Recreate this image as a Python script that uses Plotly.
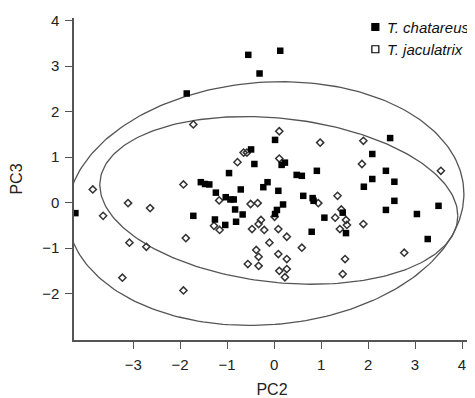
import numpy as np
import plotly.graph_objects as go

# T. chatareus (filled squares)
chat_pc2 = [-1.86, -0.55, 0.13, -0.31, 0.02, -0.49, -0.42, 0.16, 0.23, 2.09, 2.47, -0.96,
            -1.56, -1.47, -1.38, -0.71, -1.24, -1.03, -0.93, -0.86, -0.14, -0.23, 0.09, 0.91,
            0.48, 0.59, 0.62, 0.82, 2.09, 1.91, 2.38, 2.56, 2.56, 3.50, 2.38, 3.04, 3.27,
            -4.23, -1.72, -1.26, 0.84, 0.19, -0.83, 0.06, 0.02, -0.67, -0.81, -1.04, 1.07,
            1.46, 1.53, 0.80]
chat_pc3 = [2.40, 3.25, 3.34, 2.84, 1.38, 1.17, 0.85, 0.83, 0.88, 1.07, 1.42, 0.65,
            0.45, 0.41, 0.40, 0.29, 0.22, 0.12, 0.07, 0.07, 0.45, 0.34, 0.26, 0.70,
            0.61, 0.59, 0.15, 0.10, 0.52, 0.35, 0.70, 0.46, 0.04, -0.07, -0.16, -0.25, -0.80,
            -0.23, -0.29, -0.37, 0.04, -0.04, -0.15, -0.16, -0.25, -0.26, -0.42, -0.49, -0.33,
            -0.22, -0.67, -0.64]

# T. jaculatrix (open markers)
jac_pc2 = [-1.72, 0.11, 0.98, 1.90, -0.65, -0.58, -0.78, 0.11, 1.87, -1.93, -1.17, 1.35,
           3.55, 1.90, 2.77, -3.86, -3.11, -2.64, -3.64, -3.08, -2.72, -3.23, -1.93, -1.28,
           -1.16, -1.88, 0.94, -0.50, -0.35, 0.01, -0.28, -0.33, -0.47, -0.21, 0.09, 0.27,
           -0.10, 0.59, 1.30, 1.43, 1.53, 1.40, 1.55, -0.38, -0.33, 0.09, 0.27, -0.56, -0.33,
           0.11, 0.27, 0.23, 1.51, 1.46]
jac_pc3 = [1.72, 1.57, 1.32, 1.36, 1.10, 1.10, 0.89, 0.97, 0.85, 0.40, 0.05, 0.15,
           0.70, -0.47, -1.10, 0.29, -0.01, -0.12, -0.29, -0.88, -0.97, -1.65, -1.93, -0.51,
           -0.60, -0.78, -0.01, -0.03, -0.01, -0.31, -0.38, -0.47, -0.58, -0.60, -0.58, -0.75,
           -0.88, -0.99, -0.33, -0.15, -0.38, -0.58, -0.49, -1.04, -1.19, -1.13, -1.24, -1.35, -1.39,
           -1.50, -1.46, -1.64, -1.24, -1.57]

# Ellipse parameters: centre (PC2, PC3) and covariance-like shape (sxx, syy, sxy)
ell_chat_center = [-0.18, -0.02]
ell_chat_shape = [17.81, 7.18, 0.9]
ell_jac_center = [0.10, 0.05]
ell_jac_shape = [14.52, 3.40, -1.3]

x_ticks = [-3, -2, -1, 0, 1, 2, 3, 4]
y_ticks = [-2, -1, 0, 1, 2, 3, 4]
legend_names = ["T. chatareus", "T. jaculatrix"]

FONT = "Liberation Sans, Arial"


def ellipse(center, shape, n=240):
    sxx, syy, sxy = shape
    t = np.linspace(0, 2 * np.pi, n)
    a = np.sqrt(sxx)
    ex = center[0] + a * np.cos(t)
    ey = center[1] + (sxy / a) * np.cos(t) + np.sqrt(syy - sxy ** 2 / sxx) * np.sin(t)
    return ex, ey


fig = go.Figure()
for c, s in [(ell_chat_center, ell_chat_shape), (ell_jac_center, ell_jac_shape)]:
    ex, ey = ellipse(c, s)
    fig.add_trace(go.Scatter(x=ex, y=ey, mode="lines", line=dict(color="#555", width=1.3),
                             showlegend=False, hoverinfo="skip"))

fig.add_trace(go.Scatter(x=jac_pc2, y=jac_pc3, mode="markers", name=legend_names[1],
                         showlegend=False,
                         marker=dict(symbol="diamond-open", size=5.5, color="#333",
                                     line=dict(width=1.5, color="#333"))))
fig.add_trace(go.Scatter(x=chat_pc2, y=chat_pc3, mode="markers", name=legend_names[0],
                         showlegend=False,
                         marker=dict(symbol="square", size=6.5, color="#000")))

# hand-placed legend (symbol + italic label)
leg_x, leg_ys, txt_x = 0.761, [0.972, 0.903], 0.786
shapes = []
for i, y in enumerate(leg_ys):
    shapes.append(dict(type="rect", xref="paper", yref="paper", xsizemode="pixel",
                       ysizemode="pixel", xanchor=leg_x, yanchor=y,
                       x0=-3.5, x1=3.5, y0=-3.5, y1=3.5,
                       fillcolor="#000" if i == 0 else "white",
                       line=dict(color="#000", width=1.2)))
annotations = [dict(xref="paper", yref="paper", x=txt_x, y=y, xanchor="left",
                    yanchor="middle", showarrow=False, text=f"<i>{name}</i>",
                    font=dict(family=FONT, size=15, color="#111"))
               for name, y in zip(legend_names, leg_ys)]

axis_common = dict(showline=True, linecolor="#555", linewidth=1.5, showgrid=False,
                   zeroline=False, ticks="outside", ticklen=7, tickcolor="#555",
                   tickwidth=1.3, automargin=False, ticklabelstandoff=3,
                   tickfont=dict(family=FONT, size=15, color="#222"))

fig.update_layout(
    width=475, height=398,
    margin=dict(l=66, r=13, t=10, b=66, autoexpand=False),
    paper_bgcolor="white", plot_bgcolor="white",
    font=dict(family=FONT, size=15, color="#222"),
    xaxis=dict(range=[-4.26, 4.17], tickvals=x_ticks,
               title=dict(text="PC2", font=dict(size=16), standoff=12), **axis_common),
    yaxis=dict(range=[-3.02, 4.06], tickvals=y_ticks,
               title=dict(text="PC3", font=dict(size=16), standoff=24), **axis_common),
    shapes=shapes,
    annotations=annotations,
    showlegend=False,
)

fig.write_html("out.html")
